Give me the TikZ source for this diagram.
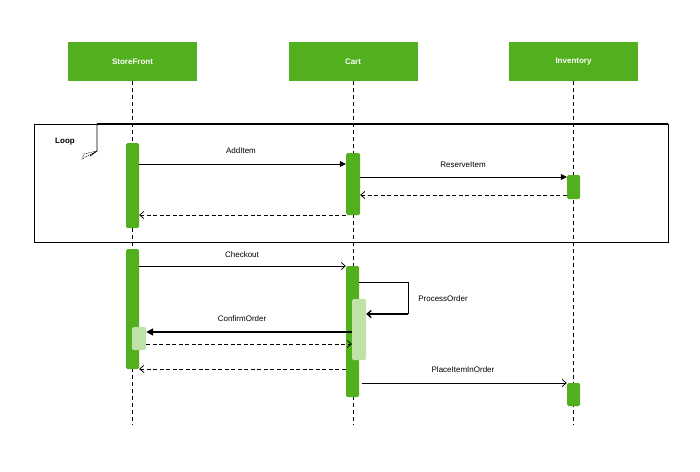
\documentclass[tikz,border=0pt]{standalone}
\usepackage{fontspec}
\setmainfont{Liberation Sans}
\usetikzlibrary{arrows.meta}
\definecolor{hdrgreen}{RGB}{82,176,30}
\definecolor{lightgreen}{RGB}{190,226,168}
\tikzset{
  header/.style={fill=hdrgreen, draw=none, minimum width=129pt, minimum height=39pt, inner sep=0pt, text=white, font=\fontsize{8}{9}\selectfont\bfseries},
  lifeline/.style={dashed, dash pattern=on 4pt off 3pt, line width=0.7pt},
  actbar/.style={fill=hdrgreen, rounded corners=1.5pt, draw=none},
  subbar/.style={fill=lightgreen, rounded corners=1.5pt, draw=none},
  msg/.style={line width=0.75pt},
  lbl/.style={font=\fontsize{8}{9}\selectfont, inner sep=0pt},
  filltip/.style={-{Triangle[length=6pt,width=6pt]}},
  opentip/.style={-{Straight Barb[length=4pt,width=7pt]}},
  ret/.style={msg, dashed, dash pattern=on 4pt off 2.5pt, opentip},
}
\begin{document}
\begin{tikzpicture}[x=1pt,y=-1pt]
\useasboundingbox (0,0) rectangle (700,471);
% headers
\node[header] (sf) at (132.5,61.5) {StoreFront};
\node[header] (ct) at (353,61.5) {Cart};
\node[header] (inv) at (573.5,61.5) {Inventory};
% lifelines
\coordinate (sfend) at (132,425);
\coordinate (ctend) at (353,425);
\coordinate (invend) at (573,425);
\draw[lifeline] (sf.south -| sfend) -- (sfend);
\draw[lifeline] (ct.south -| ctend) -- (ctend);
\draw[lifeline] (inv.south -| invend) -- (invend);
% loop frame
\draw[line width=0.9pt, fill=none] (34,124) rectangle (668,242);
\draw[line width=1.4pt] (97,124) -- (668,124);
\draw[line width=0.8pt] (97,124) -- (97,151) -- (90,156);
\draw[line width=0.5pt, dashed, dash pattern=on 1.5pt off 1pt] (97,151) -- (84,154) -- (82,159) -- cycle;
\node[font=\fontsize{8}{9}\selectfont\bfseries, inner sep=0pt] (looplbl) at (65,142) {Loop};
% activation bars
\node[actbar, minimum width=13pt, minimum height=85pt, inner sep=0pt] (sfa1) at (132.5,185.5) {};
\node[actbar, minimum width=14pt, minimum height=62pt, inner sep=0pt] (cta1) at (353,184) {};
\node[actbar, minimum width=13pt, minimum height=24pt, inner sep=0pt] (inva1) at (573.5,187) {};
\node[actbar, minimum width=13pt, minimum height=120pt, inner sep=0pt] (sfa2) at (132.5,309) {};
\node[actbar, minimum width=13pt, minimum height=131pt, inner sep=0pt] (cta2) at (352.5,331.5) {};
\node[subbar, minimum width=14pt, minimum height=61pt, inner sep=0pt] (cts) at (359,329.5) {};
\node[subbar, minimum width=14pt, minimum height=23pt, inner sep=0pt] (sfs) at (139,338.5) {};
\node[actbar, minimum width=13pt, minimum height=23pt, inner sep=0pt] (inva2) at (573.5,394.5) {};
% loop messages
\draw[msg, filltip] (sfa1.east |- 0,164) -- (cta1.west |- 0,164);
\node[lbl] (addlbl) at (241,151) {AddItem};
\draw[msg, filltip] (cta1.east |- 0,177) -- (inva1.west |- 0,177);
\node[lbl] (reslbl) at (463,165) {ReserveItem};
\draw[ret] (inva1.west |- 0,195) -- (cta1.east |- 0,195);
\draw[ret] (cta1.west |- 0,215) -- (sfa1.east |- 0,215);
% second part
\draw[msg, opentip] (sfa2.east |- 0,266) -- (cta2.west |- 0,266);
\node[lbl] (chklbl) at (242,255) {Checkout};
\coordinate (po1) at (408,282);
\coordinate (po2) at (408,314);
\draw[msg] (cta2.east |- po1) -- (po1) -- (po2);
\draw[line width=1.4pt, opentip] (po2) -- (cts.east |- po2);
\node[lbl] (polbl) at (443,299) {ProcessOrder};
\draw[line width=1.8pt, -{Triangle[length=7pt,width=7pt]}] (cts.west |- 0,332) -- (sfs.east |- 0,332);
\node[lbl] (cflbl) at (242,319) {ConfirmOrder};
\draw[ret] (sfs.east |- 0,344) -- (cts.west |- 0,344);
\draw[ret] (cta2.west |- 0,369) -- (sfa2.east |- 0,369);
\draw[msg, opentip] (362,383) -- (inva2.west |- 0,383);
\node[lbl] (pilbl) at (463,370) {PlaceItemInOrder};
\end{tikzpicture}
\end{document}
